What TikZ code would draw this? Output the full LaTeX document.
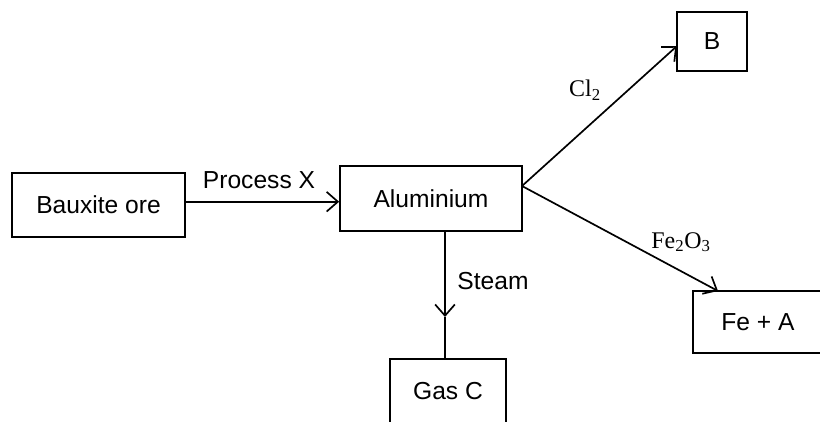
\documentclass[tikz,border=0pt]{standalone}
\usepackage{fontspec}
\setmainfont{Liberation Sans}
\newfontfamily\chemfont{Liberation Serif}
\usetikzlibrary{arrows.meta}
\begin{document}
\begin{tikzpicture}[x=0.025cm,y=-0.025cm,
  box/.style={draw,line width=1.2pt,inner sep=0pt,font=\fontsize{17.5}{20}\selectfont},
  lbl/.style={inner sep=0pt,font=\fontsize{17.5}{20}\selectfont},
  chem/.style={inner sep=0pt,font=\chemfont\fontsize{17}{19}\selectfont},
  conn/.style={line width=1.2pt},
  arr/.style={conn,-{Straight Barb[length=8pt,width=14pt,line width=1.2pt]}}]
\useasboundingbox (0,0) rectangle (820,421);
\clip (0,0) rectangle (820,421);
\node[box,minimum width=173*0.025cm,minimum height=64*0.025cm] (bx) at (98.5,205) {Bauxite ore};
\node[box,minimum width=182*0.025cm,minimum height=65*0.025cm] (al) at (431,198.5) {Aluminium};
\node[box,minimum width=70*0.025cm,minimum height=59*0.025cm] (b) at (712,41.5) {B};
\node[box,minimum width=130*0.025cm,minimum height=62*0.025cm] (fa) at (758,322) {Fe + A};
\node[box,minimum width=116*0.025cm,minimum height=64*0.025cm] (gc) at (448,391) {Gas C};
\node[lbl] (px) at (259,180) {Process X};
\node[lbl] (st) at (493,281) {Steam};
\node[chem] (cl) at (585,90) {Cl\textsubscript{2}};
\node[chem] (fe) at (681,242) {Fe\textsubscript{2}O\textsubscript{3}};
\coordinate (fork) at (522,186);
\coordinate (btip) at (677,46);
\coordinate (fatip) at (718,291);
\coordinate (sttip) at (445,317);
\draw[arr] (bx.east |- al.182) -- (al.182);
\draw[arr] (fork) -- (btip);
\draw[arr] (fork) -- (fatip);
\draw[arr] (al.south -| sttip) -- (sttip);
\draw[conn] (sttip) -- (gc.north -| sttip);
\end{tikzpicture}
\end{document}
